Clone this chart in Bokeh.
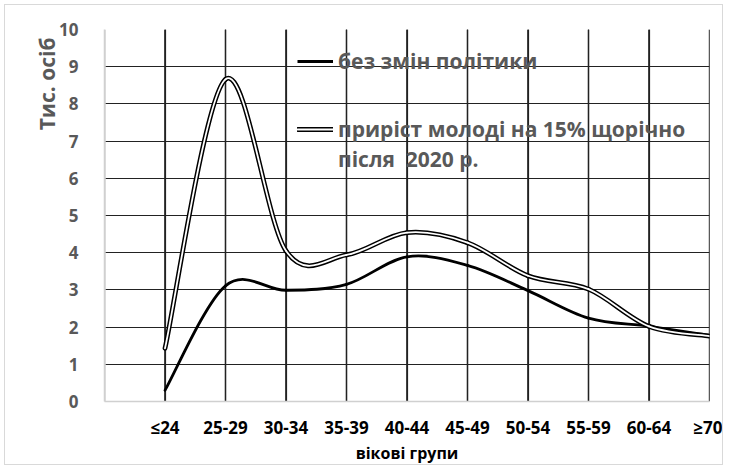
import numpy as np
from bokeh.plotting import figure
from bokeh.models import Range1d, FixedTicker, Legend, LegendItem, Title, Grid
from bokeh.embed import file_html
from bokeh.resources import INLINE

categories = ["≤24", "25-29", "30-34", "35-39", "40-44", "45-49", "50-54", "55-59", "60-64", "≥70"]
no_change = [0.30, 3.11, 2.99, 3.15, 3.89, 3.66, 2.98, 2.24, 2.02, 1.78]
youth_growth = [1.43, 8.66, 4.05, 3.94, 4.54, 4.27, 3.38, 3.02, 2.02, 1.76]
y_ticks = list(range(0, 11))
label_no_change = "без змін політики"
label_growth_1 = "приріст молоді на 15% щорічно"
label_growth_2 = "після  2020 р."
y_title = "Тис. осіб"
x_title = "вікові групи"

FONT = "Open Sans"
GRAY = "#595959"
GRID = "#222222"
AXIS = "#d0d0d0"


def smooth_segments(ys):
    """Bezier control points (Catmull-Rom style, as spreadsheet smoothed lines)."""
    y = np.asarray(ys, dtype=float)
    x = np.arange(len(y), dtype=float)
    n = len(y)
    d = dict(x0=[], y0=[], x1=[], y1=[], cx0=[], cy0=[], cx1=[], cy1=[])
    for i in range(n - 1):
        a = max(i - 1, 0)
        b = min(i + 2, n - 1)
        d["x0"].append(x[i]); d["y0"].append(y[i])
        d["x1"].append(x[i + 1]); d["y1"].append(y[i + 1])
        d["cx0"].append(x[i] + (x[i + 1] - x[a]) / 6.0)
        d["cy0"].append(y[i] + (y[i + 1] - y[a]) / 6.0)
        d["cx1"].append(x[i + 1] - (x[b] - x[i]) / 6.0)
        d["cy1"].append(y[i + 1] - (y[b] - y[i]) / 6.0)
    return d


xs = [float(v) for v in range(len(categories))]
x_lo, x_hi = -1.0, float(len(categories) - 1)
y_lo, y_hi = float(y_ticks[0]), float(y_ticks[-1])

p = figure(width=719, height=461, x_range=Range1d(x_lo, x_hi), y_range=Range1d(y_lo, y_hi),
           output_backend="svg", toolbar_location=None,
           min_border_left=99, min_border_right=15, min_border_top=24, min_border_bottom=63,
           styles={"margin-left": "4px", "margin-top": "4px", "border": "1px solid #d9d9d9"})
p.outline_line_color = None
p.background_fill_color = "white"

p.xaxis.ticker = FixedTicker(ticks=xs)
p.xaxis.major_label_overrides = {i: c for i, c in enumerate(categories)}
p.yaxis.ticker = FixedTicker(ticks=y_ticks)
for ax in (p.xaxis, p.yaxis):
    ax.axis_line_color = AXIS
    ax.axis_line_width = 1.5
    ax.major_tick_line_color = None
    ax.minor_tick_line_color = None
    ax.major_label_text_font = FONT
    ax.major_label_text_font_style = "bold"
p.xaxis.major_label_text_font_size = "17px"
p.xaxis.major_label_text_color = "black"
p.xaxis.major_label_standoff = 8
p.xaxis.axis_label = x_title
p.xaxis.axis_label_text_font = FONT
p.xaxis.axis_label_text_font_style = "bold"
p.xaxis.axis_label_text_font_size = "16px"
p.xaxis.axis_label_text_color = "black"
p.xaxis.axis_label_standoff = 0
p.yaxis.major_label_text_font_size = "17px"
p.yaxis.major_label_text_color = GRAY
p.yaxis.major_label_standoff = 20

# grids: vertical at each age group, horizontal at each whole thousand
p.xgrid.ticker = FixedTicker(ticks=xs)
p.xgrid.grid_line_color = GRID
p.xgrid.grid_line_width = 1.2
p.ygrid.visible = False
hgrid = Grid(dimension=1, ticker=FixedTicker(ticks=y_ticks[1:]), grid_line_color=GRID, grid_line_width=1.2)
p.add_layout(hgrid)

# vertical category lines, also drawn as glyphs
n = len(xs)
p.segment(x0=xs, y0=[y_lo] * n, x1=xs, y1=[y_hi] * n, line_color=GRID, line_width=1.2)
frame_px = 719 - 99 - 15
half_w = 0.6 * (x_hi - x_lo) / frame_px
p.quad(left=[v - half_w for v in xs], right=[v + half_w for v in xs],
       bottom=[y_lo] * n, top=[y_hi] * n, fill_color=GRID, line_color=None)
p.quad(left=[x_lo], right=[x_lo + 2 * half_w], bottom=[y_lo], top=[y_hi],
       fill_color=AXIS, line_color=None)

s1 = smooth_segments(no_change)
s2 = smooth_segments(youth_growth)
r1 = p.bezier(source=s1, x0="x0", y0="y0", x1="x1", y1="y1", cx0="cx0", cy0="cy0", cx1="cx1", cy1="cy1",
              line_color="black", line_width=2.8, line_cap="round")
r2a = p.bezier(source=s2, x0="x0", y0="y0", x1="x1", y1="y1", cx0="cx0", cy0="cy0", cx1="cx1", cy1="cy1",
               line_color="black", line_width=4.8, line_cap="round")
r2b = p.bezier(source=s2, x0="x0", y0="y0", x1="x1", y1="y1", cx0="cx0", cy0="cy0", cx1="cx1", cy1="cy1",
               line_color="white", line_width=1.8, line_cap="round")

# legend proxies (not visible in plot)
l1 = p.line(xs, no_change, line_color="black", line_width=2.8, visible=False)
l2a = p.line(xs, youth_growth, line_color="black", line_width=4.8, line_cap="round", visible=False)
l2b = p.line(xs, youth_growth, line_color="white", line_width=1.8, line_cap="round", visible=False)
l3 = p.line(xs, youth_growth, line_alpha=0, visible=False)

def make_legend(items, loc):
    lg = Legend(items=items, location=loc, orientation="vertical",
                border_line_color=None, background_fill_alpha=0,
                padding=0, margin=0, spacing=2, glyph_width=36, glyph_height=22,
                label_standoff=5, label_text_font=FONT, label_text_font_style="bold",
                label_text_font_size="21px", label_text_color=GRAY, label_height=22)
    p.add_layout(lg, "center")
    return lg

make_legend([LegendItem(label=label_no_change, renderers=[l1])], (193, 326))
make_legend([LegendItem(label=label_growth_1, renderers=[l2a, l2b]),
             LegendItem(label=label_growth_2, renderers=[l3])], (193, 228))

p.add_layout(Title(text=y_title, align="right", offset=8, standoff=-8, text_font=FONT,
                   text_font_style="bold", text_font_size="21px", text_color=GRAY), "left")

open("out.html", "w").write(file_html(p, INLINE))
